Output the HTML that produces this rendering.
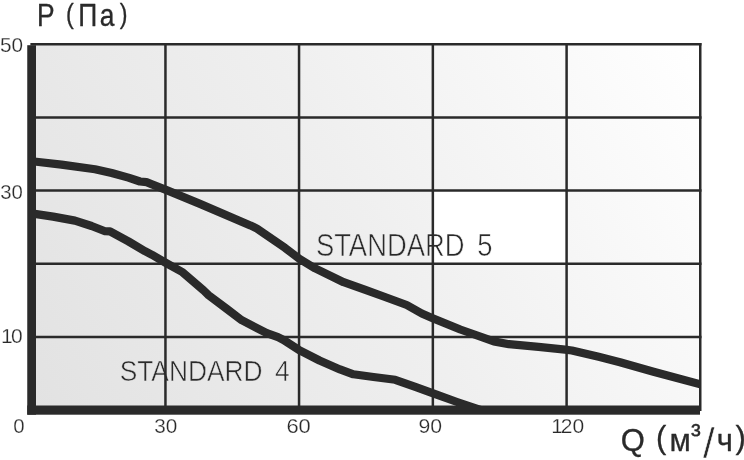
<!DOCTYPE html>
<html lang="ru">
<head>
<meta charset="utf-8">
<title>P (Па) / Q (м³/ч)</title>
<style>
html,body{margin:0;padding:0;background:#fff;}
body{width:744px;height:460px;overflow:hidden;position:relative;}
svg{position:absolute;left:0;top:0;display:block;filter:grayscale(1);}
text{font-family:"Liberation Sans",sans-serif;fill:#2b2a29;}
</style>
</head>
<body>
<svg width="744" height="460" viewBox="0 0 744 460">
  <defs>
    <linearGradient id="bg" gradientUnits="userSpaceOnUse" x1="32" y1="410" x2="700" y2="44">
      <stop offset="0" stop-color="#e2e2e2"/>
      <stop offset="0.5" stop-color="#efefef"/>
      <stop offset="1" stop-color="#ffffff"/>
    </linearGradient>
    <clipPath id="plot"><rect x="32" y="44" width="667.8" height="370"/></clipPath>
  </defs>
  <rect x="0" y="0" width="744" height="460" fill="#ffffff"/>
  <rect x="32" y="44" width="668.5" height="366" fill="url(#bg)"/>
  <rect x="433" y="190.4" width="133.6" height="73.3" fill="#ffffff"/>
  <!-- labels inside (drawn under the grid so the thinning halo never nicks a line) -->
  <g stroke="url(#bg)" stroke-width="0.6" stroke-linejoin="round">
    <text x="315.9" y="256.1" font-size="32.2" word-spacing="6" textLength="176.6" lengthAdjust="spacingAndGlyphs">STANDA<tspan stroke="#ffffff">RD 5</tspan></text>
    <text x="119.7" y="380.5" font-size="30.3" word-spacing="6" textLength="170" lengthAdjust="spacingAndGlyphs">STANDARD 4</text>
  </g>
  <!-- grid -->
  <g stroke="#2b2a29" stroke-width="2.5" fill="none">
    <path d="M30.4 44.15H701.5"/>
    <path d="M32 117.4H701.5"/>
    <path d="M32 190.4H701.5"/>
    <path d="M32 263.7H701.5"/>
    <path d="M32 336.9H701.5"/>
    <path d="M165.45 44V410"/>
    <path d="M299.05 44V410"/>
    <path d="M432.85 44V410"/>
    <path d="M566.6 44V410"/>
    <path d="M700.25 42.9V411"/>
  </g>
  <!-- curves -->
  <g clip-path="url(#plot)" stroke="#2b2a29" stroke-width="8.2" fill="none" stroke-linejoin="round">
    <path d="M29 160.9 L36.4 161.75 L61.5 164.6 L95 169.3 L111.7 173 L128.4 177.65 L140 181.5 L146.5 182.2 L152 184.3 L165.4 189.6 L200 203.9 L250.4 225.4 L257 228.7 L265 234.2 L285.1 247.9 L299.3 258.8 L315.2 268.4 L343.6 282.2 L365.4 289.8 L385 297 L406.75 305 L421.8 313.5 L432.7 318.2 L460.3 329.5 L493.8 341.35 L509 344.2 L538.5 346.8 L565.2 349.7 L571.9 350.5 L598.7 356.85 L620 362.25 L653.5 371.8 L699.5 384 L710 386.8"/>
    <path d="M29 213 L36.4 214.1 L53.1 216.6 L74.9 220.6 L91.6 226 L105 231.2 L110 231.4 L128.4 241.35 L145 251.2 L152 254.8 L165.4 262.6 L182.65 272.3 L203.6 290.4 L208.6 295.2 L226.8 308.9 L241.7 320.2 L266.8 333.15 L278 337.2 L283.6 340 L298.7 349.8 L319.5 360.5 L340 369.4 L353.4 374.3 L373.5 377 L395.2 379.8 L415.3 386.8 L432.5 393.2 L457.1 402 L480.4 409.8 L495 415"/>
  </g>
  <!-- axes -->
  <rect x="27.25" y="45.2" width="8.75" height="369.5" fill="#2b2a29"/>
  <rect x="27.25" y="405.5" width="672.75" height="9.2" fill="#2b2a29"/>
  <!-- outer labels -->
  <g stroke="#ffffff" stroke-width="0.25" stroke-linejoin="round">
    <text transform="translate(0 25.9) scale(0.82 1)" stroke="#2b2a29" stroke-width="0.35" font-size="32.2" y="0" x="45.24 67.07">P <tspan font-size="28.5" x="80.5" y="-3.3">(</tspan><tspan x="95.37 121.71" y="0">Па</tspan><tspan font-size="28.5" x="146" y="-3.3">)</tspan></text>
    <text x="-0.03" y="52.1" font-size="21" textLength="23.08" lengthAdjust="spacingAndGlyphs">50</text>
    <text x="0.29" y="199.4" font-size="21" textLength="22.64" lengthAdjust="spacingAndGlyphs">30</text>
    <text x="1.1 10.9" y="342.7" font-size="21">10</text>
    <text x="13.14" y="433.3" font-size="21" textLength="11.35" lengthAdjust="spacingAndGlyphs">0</text>
    <text x="154.18" y="433.3" font-size="21" textLength="23.07" lengthAdjust="spacingAndGlyphs">30</text>
    <text x="286.4" y="433.3" font-size="21" textLength="24.39" lengthAdjust="spacingAndGlyphs">60</text>
    <text x="418.4" y="433.3" font-size="21" textLength="23.61" lengthAdjust="spacingAndGlyphs">90</text>
    <text x="551.2 560.75 572.5" y="433.3" font-size="21">120</text>
    <text stroke="#2b2a29" stroke-width="0.3" font-size="31" y="450.5 450.5 447.9 450.5" x="620.8 645 656 669.6">Q (м<tspan font-size="29.2" x="690.9" y="443.5">³</tspan><tspan font-size="42" stroke="#ffffff" stroke-width="0.55" x="703" y="458.25">/</tspan><tspan x="716.8 735.5" y="450.5 447.9">ч)</tspan></text>
  </g>
</svg>
</body>
</html>
